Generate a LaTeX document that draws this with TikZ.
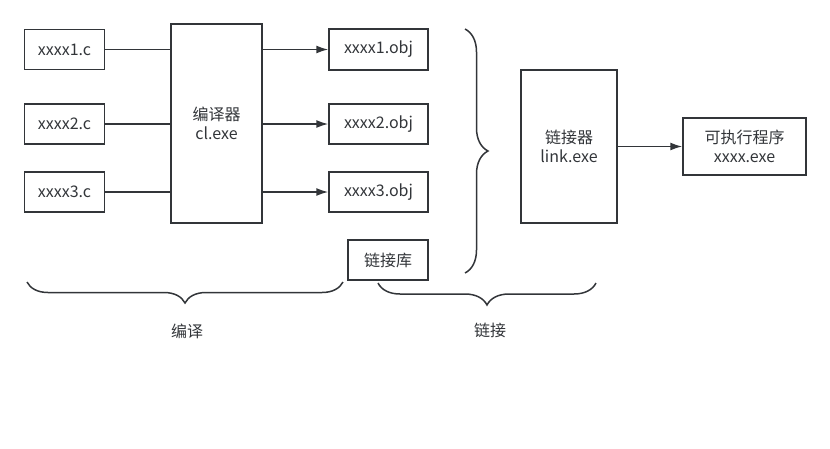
\documentclass[tikz,border=0pt]{standalone}
\usepackage{fontspec}
\setmainfont{Noto Sans CJK SC}
\usetikzlibrary{positioning}
\usetikzlibrary{arrows.meta}
\usetikzlibrary{decorations.pathreplacing}

\definecolor{ink}{RGB}{50,53,57}

\begin{document}
\begin{tikzpicture}[
    x=1pt, y=-1pt,
    every node/.style={text=ink, font=\fontsize{16pt}{19pt}\selectfont, align=center, inner sep=0pt},
    box/.style={draw=ink, line width=1.5pt, minimum width=80pt, minimum height=40pt},
    every path/.style={line width=1.5pt, draw=ink},
    >={Latex[length=12pt,width=8pt]},
    curly/.style={decorate, decoration={brace, amplitude=#1}}
  ]
  \useasboundingbox[draw=none] (0,0) rectangle (830,448);

  \node[box] (C1) at (64.5,49.5) {xxxx1.c};
  \node[box] (C2) at (64.5,124) {xxxx2.c};
  \node[box] (C3) at (64.5,192) {xxxx3.c};
  \node[box, minimum width=91pt, minimum height=199pt] (CL) at (216.5,123.5) {编译器\\cl.exe};
  \node[box, minimum width=99pt, minimum height=41pt] (O1) at (378.5,49.5) {xxxx1.obj};
  \node[box, minimum width=99pt] (O2) at (378.5,124) {xxxx2.obj};
  \node[box, minimum width=99pt] (O3) at (378.5,192) {xxxx3.obj};
  \node[box] (LIB) at (388,260) {链接库};
  \node[box, minimum width=96pt, minimum height=153pt] (LINK) at (569,146.5) {链接器\\link.exe};
  \node[box, minimum width=123pt, minimum height=57pt] (EXE) at (744.5,146.5) {可执行程序\\xxxx.exe};

  \draw (C1.east) -- (C1.east -| CL.west);
  \draw (C2.east) -- (C2.east -| CL.west);
  \draw (C3.east) -- (C3.east -| CL.west);
  \draw[->] (CL.east |- O1) -- (O1.west);
  \draw[->] (CL.east |- O2) -- (O2.west);
  \draw[->] (CL.east |- O3) -- (O3.west);
  \draw[->] (LINK.east |- EXE) -- (EXE.west);

  % braces
  \coordinate (linkTop) at (465,29);
  \coordinate (linkBot) at (465,273);
  \coordinate (compL) at (27,282);
  \coordinate (compR) at (343,282);
  \coordinate (joinL) at (378,283);
  \coordinate (joinR) at (596,283);
  \draw[curly=23pt] (linkTop) -- (linkBot);
  \draw[curly=21pt] (compR) -- (compL);
  \draw[curly=22pt] (joinR) -- (joinL);

  \node (COMP) at (187,331) {编译};
  \node (JOIN) at (490,330) {链接};
\end{tikzpicture}
\end{document}
